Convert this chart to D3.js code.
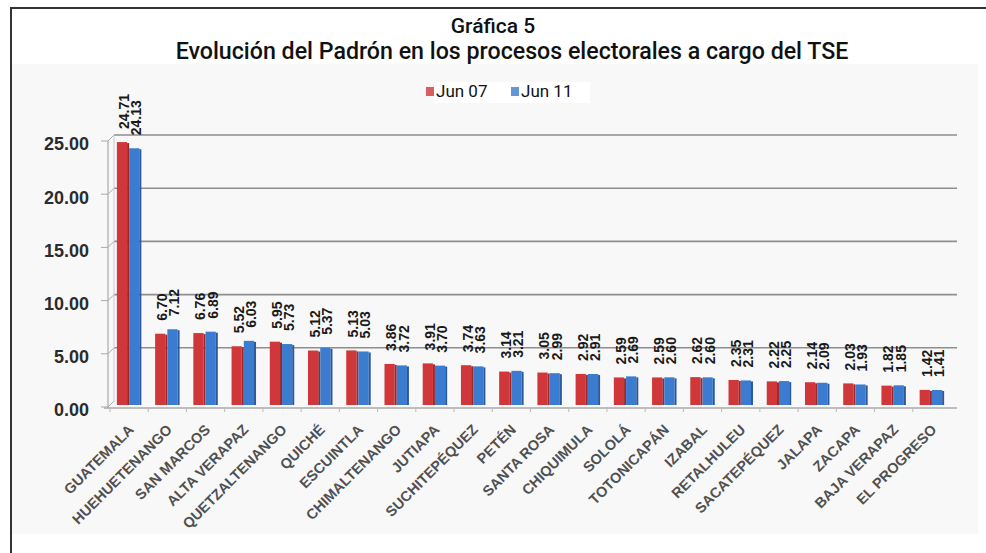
<!DOCTYPE html>
<html><head><meta charset="utf-8">
<script src="https://cdn.jsdelivr.net/npm/d3@7/dist/d3.min.js"></script>
<style>html,body{margin:0;padding:0;background:#fff;}svg{display:block;}</style>
</head><body>
<svg id="c" width="986" height="553"></svg>
<script>
const categories = ["GUATEMALA","HUEHUETENANGO","SAN MARCOS","ALTA VERAPAZ","QUETZALTENANGO","QUICHÉ","ESCUINTLA","CHIMALTENANGO","JUTIAPA","SUCHITEPÉQUEZ","PETÉN","SANTA ROSA","CHIQUIMULA","SOLOLÁ","TOTONICAPÁN","IZABAL","RETALHULEU","SACATEPÉQUEZ","JALAPA","ZACAPA","BAJA VERAPAZ","EL PROGRESO"];
const seriesNames = ["Jun 07","Jun 11"];
const jun07 = [24.71,6.70,6.76,5.52,5.95,5.12,5.13,3.86,3.91,3.74,3.14,3.05,2.92,2.59,2.59,2.62,2.35,2.22,2.14,2.03,1.82,1.42];
const jun11 = [24.13,7.12,6.89,6.03,5.73,5.37,5.03,3.72,3.70,3.63,3.21,2.99,2.91,2.69,2.60,2.60,2.31,2.25,2.09,1.93,1.85,1.41];
const yTicks = [0,5,10,15,20,25];
const titleLines = ["Gráfica 5","Evolución del Padrón en los procesos electorales a cargo del TSE"];

const colors = ["#d0373a","#3b7cd0"];
const sideColors = ["#a02628","#2a5a9c"];

const svg = d3.select("#c");
svg.append("rect").attr("x",12).attr("y",64).attr("width",966).attr("height",470).attr("fill","#f8f8f8");
svg.append("line").attr("x1",10).attr("x2",986).attr("y1",8).attr("y2",8).attr("stroke","#333").attr("stroke-width",2);
svg.append("line").attr("x1",11).attr("x2",11).attr("y1",7).attr("y2",553).attr("stroke","#333").attr("stroke-width",2);

const titleFont = "Roboto, 'DejaVu Sans', sans-serif";
svg.append("text").attr("x",493).attr("y",33).attr("text-anchor","middle")
  .attr("font-family",titleFont).attr("font-weight",500).attr("font-size",21).attr("fill","#111").text(titleLines[0]);
const t2 = svg.append("text").attr("x",512).attr("y",59).attr("text-anchor","middle")
  .attr("font-family",titleFont).attr("font-weight",500).attr("font-size",20).attr("fill","#111").text(titleLines[1]);
const w2 = t2.node().getComputedTextLength();
t2.attr("font-size",20*673/w2);

const x = d3.scaleBand().domain(categories).range([110,951]).paddingInner(0.36).paddingOuter(0.18);
const xs = d3.scaleBand().domain(seriesNames).range([0,x.bandwidth()]);
const y = d3.scaleLinear().domain([0,25]).range([405,139]);

const g = svg.append("g");
g.selectAll("line.grid").data(yTicks.filter(d=>d>0)).join("line")
  .attr("x1",114).attr("x2",957).attr("y1",d=>y(d)-4).attr("y2",d=>y(d)-4)
  .attr("stroke","#8e8e8e").attr("stroke-width",1.6);
g.selectAll("line.diag").data(yTicks).join("line")
  .attr("x1",108).attr("x2",114).attr("y1",d=>y(d)+2).attr("y2",d=>y(d)-4)
  .attr("stroke","#aaa").attr("stroke-width",1);
g.append("line").attr("x1",108).attr("x2",108).attr("y1",y(25)+2).attr("y2",y(0)+3).attr("stroke","#aaa").attr("stroke-width",1.2);
g.append("line").attr("x1",114).attr("x2",114).attr("y1",y(25)-4).attr("y2",y(0)-3).attr("stroke","#ccc").attr("stroke-width",1);
g.append("line").attr("x1",104).attr("x2",957).attr("y1",y(0)+3).attr("y2",y(0)+3).attr("stroke","#aaa").attr("stroke-width",1.4);
g.selectAll("line.tk").data(yTicks).join("line")
  .attr("x1",101).attr("x2",108).attr("y1",d=>y(d)+2).attr("y2",d=>y(d)+2).attr("stroke","#aaa");
g.selectAll("line.xtk").data(categories).join("line")
  .attr("x1",d=>x(d)-x.step()*x.paddingInner()/2).attr("x2",d=>x(d)-x.step()*x.paddingInner()/2)
  .attr("y1",y(0)+3).attr("y2",y(0)+7).attr("stroke","#bbb");

svg.selectAll("text.yl").data(yTicks).join("text")
  .attr("x",89).attr("y",d=>y(d)+5).attr("dy","0.35em").attr("text-anchor","end")
  .attr("font-family","'Liberation Sans', Arial, sans-serif").attr("font-weight","bold")
  .attr("font-size",18).attr("fill","#2b2b2b").text(d=>d3.format(".2f")(d));

const series = [jun07, jun11];
series.forEach((vals,si)=>{
  const sg = svg.append("g");
  const bw = xs.bandwidth();
  sg.selectAll("rect.b").data(categories).join("rect")
    .attr("x",(d)=>x(d)+xs(seriesNames[si]))
    .attr("y",(d,i)=>y(vals[i]))
    .attr("width",bw-2)
    .attr("height",(d,i)=>y(0)-y(vals[i]))
    .attr("fill",colors[si]);
  sg.selectAll("rect.s").data(categories).join("rect")
    .attr("x",(d)=>x(d)+xs(seriesNames[si])+bw-2)
    .attr("y",(d,i)=>y(vals[i])+1)
    .attr("width",2)
    .attr("height",(d,i)=>y(0)-y(vals[i])-1)
    .attr("fill",sideColors[si]);
  sg.selectAll("text.v").data(categories).join("text")
    .attr("transform",(d,i)=>`translate(${x(d)+xs(seriesNames[si])+bw/2+1},${y(vals[i])-13}) rotate(-90)`)
    .attr("dy","0.35em").attr("text-anchor","start")
    .attr("font-family","'Liberation Sans Narrow', 'Liberation Sans', Arial, sans-serif")
    .attr("font-weight","bold").attr("font-size",14).attr("fill","#1a1a1a")
    .text((d,i)=>d3.format(".2f")(vals[i]));
});

svg.selectAll("text.cat").data(categories).join("text")
  .attr("transform",d=>`translate(${x(d)+x.bandwidth()/2+2},${y(0)+22}) rotate(-45)`)
  .attr("text-anchor","end").attr("dy","0.35em")
  .attr("font-family","'Liberation Sans', Arial, sans-serif").attr("font-weight","bold")
  .attr("font-size",14.5).attr("fill","#505050").text(d=>d);

const lg = svg.append("g");
lg.append("rect").attr("x",434).attr("y",82).attr("width",156).attr("height",21).attr("fill","#fff");
const legX = [426,511];
seriesNames.forEach((n,i)=>{
  lg.append("rect").attr("x",legX[i]).attr("y",87).attr("width",8).attr("height",9).attr("fill",colors[i]).attr("opacity",0.8);
  lg.append("text").attr("x",legX[i]+10).attr("y",97).attr("font-family",titleFont).attr("font-size",17)
    .attr("fill","#111").text(n);
});
</script>
</body></html>
